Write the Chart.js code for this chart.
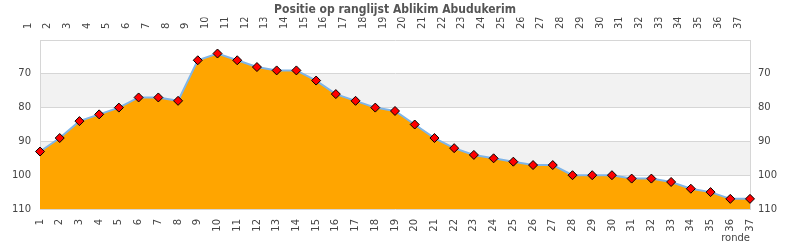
<!DOCTYPE html>
<html>
<head>
<meta charset="utf-8">
<script src="https://cdn.jsdelivr.net/npm/chart.js"></script>
<style>
  html, body { margin: 0; padding: 0; background: #fff; }
  #wrap { width: 790px; height: 250px; }
</style>
</head>
<body>
<div id="wrap"><canvas id="chart" width="790" height="250"></canvas></div>
<script>
/* rounds 1..37 and ranking position per round */
const rondes = ['1','2','3','4','5','6','7','8','9','10','11','12','13','14','15','16','17','18','19',
                '20','21','22','23','24','25','26','27','28','29','30','31','32','33','34','35','36','37'];
const posities = [93, 89, 84, 82, 80, 77, 77, 78, 66, 64, 66, 68, 69, 69, 72, 76, 78, 80, 81,
                  85, 89, 92, 94, 95, 96, 97, 97, 100, 100, 100, 101, 101, 102, 104, 105, 107, 107];
const bands = [[70, 80], [90, 100]];

const TICK_COLOR = '#444';
const FRAME = '#d6d6d6';
function tickFont() { return { family: 'DejaVu Sans', size: 10 }; }

/* grey horizontal bands behind the grid */
const bandsPlugin = {
    id: 'bands',
    beforeDraw(ch) {
        const { ctx, chartArea: a, scales: { y } } = ch;
        ctx.save();
        ctx.fillStyle = '#f2f2f2';
        bands.forEach(([lo, hi]) => {
            const y1 = y.getPixelForValue(lo), y2 = y.getPixelForValue(hi);
            ctx.fillRect(a.left, Math.min(y1, y2), a.right - a.left, Math.abs(y2 - y1));
        });
        ctx.restore();
    }
};

function yAxis(pos, pad, grid) {
    return {
        type: 'linear',
        position: pos,
        reverse: true,
        min: 60, max: 110,
        ticks: {
            stepSize: 10,
            font: tickFont(), color: TICK_COLOR, padding: pad,
            callback: v => (v === 60 ? '' : String(v))
        },
        grid: { display: grid, color: FRAME, drawTicks: false },
        border: { display: true, color: FRAME },
        afterFit: ax => { ax.width = 40; }
    };
}

new Chart(document.getElementById('chart'), {
    type: 'line',
    data: {
        labels: rondes,
        datasets: [{
            data: posities,
            borderColor: '#7fb5e8',
            borderWidth: 2,
            backgroundColor: '#ffa500',
            fill: 'start',
            tension: 0,
            pointStyle: 'rectRot',
            pointRadius: 4.5,
            pointHoverRadius: 4.5,
            pointBackgroundColor: '#ff0000',
            pointBorderColor: '#000',
            pointBorderWidth: 1
        }]
    },
    options: {
        responsive: false,
        animation: false,
        layout: { padding: 0 },
        plugins: {
            legend: { display: false },
            tooltip: { enabled: false },
            title: {
                display: true,
                text: 'Positie op ranglijst Ablikim Abudukerim',
                color: '#555',
                font: { family: 'DejaVu Sans Condensed', size: 12, weight: 'bold' },
                padding: { top: 3, bottom: 0 }
            }
        },
        scales: {
            x: {
                type: 'category',
                position: 'bottom',
                offset: false,
                grid: { display: false },
                border: { display: false },
                ticks: { font: tickFont(), color: TICK_COLOR, minRotation: 90, maxRotation: 90, autoSkip: false, padding: 2 },
                title: {
                    display: true, text: 'ronde', align: 'end',
                    font: tickFont(), color: TICK_COLOR, padding: { top: 0, bottom: 6 }
                },
                afterFit: ax => { ax.height = 41; }
            },
            xTop: {
                type: 'category',
                position: 'top',
                offset: false,
                grid: { display: false },
                border: { display: false },
                ticks: { font: tickFont(), color: TICK_COLOR, minRotation: 90, maxRotation: 90, autoSkip: false, padding: 3 },
                afterFit: ax => { ax.height = 22.6; }
            },
            y: yAxis('left', 9, true),
            y2: yAxis('right', 8, false)
        }
    },
    plugins: [bandsPlugin]
});
</script>
</body>
</html>
